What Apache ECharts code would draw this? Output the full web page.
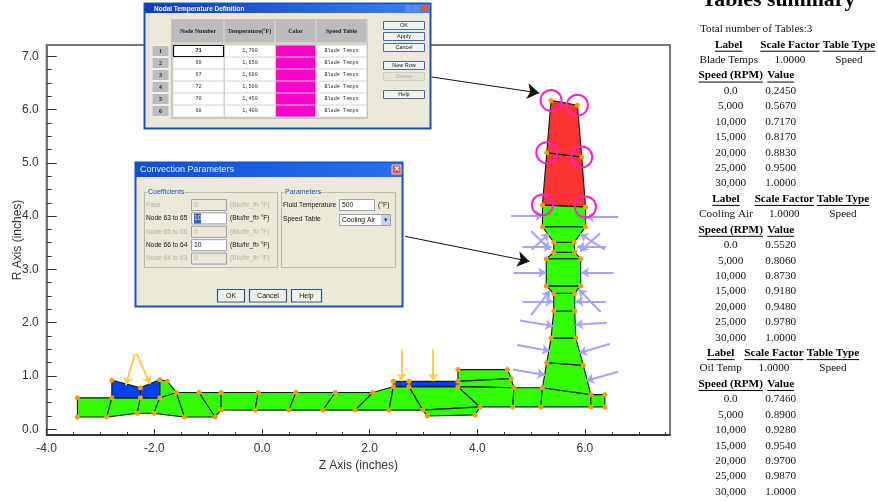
<!DOCTYPE html>
<html><head><meta charset="utf-8">
<style>html,body{margin:0;padding:0;background:#fff}#c{width:878px;height:501px}</style>
<script src="https://cdn.jsdelivr.net/npm/echarts@6/dist/echarts.min.js"></script>
</head><body><div id="c"></div>
<script>
// ---------- Chart data (Z, R in inches) ----------
const xMajor = [-4, -2, 0, 2, 4, 6];
const yMajor = [0, 1, 2, 3, 4, 5, 6, 7];
const xMinor = [-3.5,-3,-2.5,-1.5,-1,-0.5,0.5,1,1.5,2.5,3,3.5,4.5,5,5.5,6.5,7,7.5];
const yMinor = [0.25,0.5,0.75,1.25,1.5,1.75,2.25,2.5,2.75,3.25,3.5,3.75,4.25,4.5,4.75,5.25,5.5,5.75,6.25,6.5,6.75];
const nodes = {
  A:[-3.43,0.59],B:[-3.43,0.23],C:[-2.885,0.23],D:[-2.79,0.59],E:[-2.79,0.92],F:[-2.26,0.78],G:[-2.26,0.59],
  H:[-2.32,0.30],I:[-1.90,0.93],J:[-1.90,0.59],K:[-2.01,0.30],L:[-1.76,0.90],M:[-1.59,0.69],N:[-1.44,0.23],
  O:[-1.17,0.69],P:[-0.87,0.23],Q:[-0.76,0.69],R:[-0.76,0.365],S:[-0.07,0.69],T:[-0.13,0.36],U:[0.63,0.69],
  V:[0.50,0.36],W:[1.36,0.69],X:[1.13,0.36],Y:[2.06,0.69],Z:[1.73,0.36],
  a1:[2.44,0.90],a2:[2.44,0.80],a3:[2.36,0.36],b1:[2.73,0.90],b2:[2.73,0.80],b3:[2.99,0.36],c:[3.07,0.25],
  d1:[3.64,1.12],d2:[3.64,0.90],d3:[3.64,0.80],e:[4.05,0.42],f:[3.96,0.27],g:[4.56,1.12],h:[4.63,0.95],
  i:[4.68,0.78],j:[4.66,0.42],k:[5.18,0.42],l:[5.21,0.78],m:[5.29,1.25],n:[5.97,1.20],o:[6.11,0.65],
  p:[6.37,0.65],q:[6.37,0.42],r:[6.11,0.42],s:[5.37,1.71],s2:[5.83,1.71],u:[5.42,2.22],u2:[5.81,2.22],
  v:[5.42,2.55],v2:[5.81,2.55],w:[5.28,2.69],w2:[5.92,2.69],x:[5.28,3.20],x2:[5.92,3.20],y:[5.42,3.32],
  y2:[5.81,3.32],aa:[5.42,3.51],aa2:[5.80,3.51],bb:[5.21,3.80],bb2:[6.01,3.80],t5:[5.21,4.21],t6:[6.01,4.17],
  t3:[5.29,5.19],t4:[5.94,5.11],t1:[5.37,6.17],t2:[5.86,6.08]
};
const greenElements = [
  'A B C D','D C H G','G H K J','J K N M','I J M L','M N P O','O P R Q','Q R T S','S T V U','U V X W','W X Z Y',
  'Y Z a3 a2','a2 a3 b3 b2','b2 b3 e d3','b3 c f e','d2 d1 g h','d2 h i d3','d3 e j i','i j k l','l k r o','l o n m',
  'o r q p','m n s2 s','s s2 u2 u','u u2 v2 v','v v2 w2 w','w w2 x2 x','x x2 y2 y','y y2 aa2 aa','aa aa2 bb2 bb','bb bb2 t6 t5'
];
const blueElements = ['D G F E','G J I F','a1 a2 b2 d3 d2 b1'];
const redElements = ['t5 t6 t4 t3','t3 t4 t2 t1'];
const tempNodes = ['t1','t2','t3','t4','t5','t6'];
const convectionArrows = [
  [4.63,4.01,5.23,4.01],[6.62,3.98,6.02,3.98],[5.00,3.72,5.35,3.37],[4.84,3.42,5.38,3.42],[5.01,3.37,5.34,3.68],
  [6.28,3.68,5.91,3.34],[6.39,3.42,5.85,3.42],[6.37,3.37,5.91,3.67],[4.67,2.94,5.28,2.94],[6.53,2.94,5.93,2.94],
  [5.00,2.14,5.35,2.60],[4.84,2.40,5.41,2.40],[6.29,2.20,5.88,2.63],[6.39,2.40,5.82,2.40],[4.79,2.04,5.41,1.94],
  [6.41,2.00,5.82,1.96],[4.74,1.58,5.35,1.47],[6.46,1.60,5.89,1.43],[4.66,1.12,5.26,1.02],[6.62,1.08,6.02,0.91]
];
const loadArrows = [[-2.36,1.42,-2.53,0.83],[-2.33,1.42,-2.08,0.85],[2.59,1.50,2.59,0.90],[3.18,1.50,3.18,0.90]];
const calloutArrows = [[3.15,6.61,5.15,6.31],[2.66,3.62,4.97,3.15]];

// ---------- Dialog contents ----------
const tempHeaders = ['Node Number','Temperature(°F)','Color','Speed Table'];
const tempNodeNumbers = ['71','69','67','72','70','68'];
const tempValues = ['1,700','1,650','1,600','1,500','1,450','1,400'];
const tempTable = 'Blade Temps';
const tempButtons = ['OK','Apply','Cancel','New Row','Delete','Help'];
const convRows = ['Face','Node 63 to 65','Node 65 to 66','Node 66 to 64','Node 64 to 63'];
const convValues = ['0','10','0','10','0'];

// ---------- Tables summary ----------
const speedLabels = ['0.0','5,000','10,000','15,000','20,000','25,000','30,000'];
const tableNames = ['Blade Temps','Cooling Air','Oil Temp'];
const bladeValues = ['0.2450','0.5670','0.7170','0.8170','0.8830','0.9500','1.0000'];
const coolingValues = ['0.5520','0.8060','0.8730','0.9180','0.9480','0.9780','1.0000'];
const oilValues = ['0.7460','0.8900','0.9280','0.9540','0.9700','0.9870','1.0000'];

// ---------- Graphic helpers ----------
const gfx = [];
const SANS = '"Liberation Sans"', SERIF = '"Liberation Serif"', MONO = '"Liberation Mono"';
function rect(x,y,w,h,fill,stroke,lw){gfx.push({type:'rect',z:100,silent:true,shape:{x,y,width:w,height:h},style:{fill:fill||'transparent',stroke:stroke||null,lineWidth:lw||1}});}
function line(x1,y1,x2,y2,c,lw){gfx.push({type:'line',z:102,silent:true,shape:{x1,y1,x2,y2},style:{stroke:c,lineWidth:lw||1}});}
function txt(x,y,s,font,fill,align){gfx.push({type:'text',z:103,silent:true,style:{text:s,x,y,font,fill:fill||'#000',textAlign:align||'center',textVerticalAlign:'middle'}});}
function grad(a,b){return {type:'linear',x:0,y:0,x2:1,y2:0,colorStops:[{offset:0,color:a},{offset:1,color:b}]};}

// Dialog 1: Nodal Temperature Definition
rect(144.5,3.5,286,125,'#ece9d8','#1450c8',2);
rect(145,4,285,9,grad('#0a3cc0','#3c82f0'));
txt(154,9,'Nodal Temperature Definition','bold 6.5px '+SANS,'#fff','left');
rect(405,5,7,7,'#5a8cf0');rect(413,5,7,7,'#5a8cf0');rect(421,5,7,7,'#e0583c');
rect(171.5,19.5,196,99,'#d4d2c8','#c4c4bc',1);
rect(172,20,195,22,'#bcbcbc');
const colX=[172,224,275,316,367];
for(let i=0;i<4;i++){
  line(colX[i+1],20,colX[i+1],42,'#ddd',1);
  txt((colX[i]+colX[i+1])/2,31,tempHeaders[i],'bold 6px '+SERIF,'#222');
}
for(let i=0;i<6;i++){
  const y=45.5+i*12;
  rect(152,y,17,11,'#bcbcbc','#eee',1);
  txt(160.5,y+5.5,String(i+1),'bold 6px '+SERIF,'#223');
  rect(173.5,y,50,11,'#fff');
  rect(225,y,50,11,'#fff');
  rect(276,y,39,11,'#ff00cc');
  rect(316.5,y,50,11,'#fff');
  txt(198.5,y+5.5,tempNodeNumbers[i],'5.2px '+MONO,'#333');
  txt(250,y+5.5,tempValues[i],'5.2px '+MONO,'#333');
  txt(341.5,y+5.5,tempTable,'5.2px '+MONO,'#333');
}
rect(173.5,45.5,50,11,'#fff','#111',1.2);
txt(198.5,51,tempNodeNumbers[0],'5.2px '+MONO,'#333');
const btnY=[21.5,32.5,43.5,61.5,72.5,90.5];
tempButtons.forEach((b,i)=>{
  const off=b==='Delete';
  rect(383.5,btnY[i],41,8,off?'#e6e3d4':'#f2f1ea',off?'#d0cfc4':'#4a6a9a',1);
  txt(404,btnY[i]+4,b,'5.5px '+SANS,off?'#aaa':'#222');
});

// Dialog 2: Convection Parameters
rect(135.5,162.5,267,144,'#ece9d8','#1450d0',2);
rect(136,163,266,14,grad('#0a50d8','#2a70ec'));
txt(140,170,'Convection Parameters','9px '+SANS,'#e8f0ff','left');
rect(392,165,9,9,'#e0583c','#fff',0.7);
txt(396.5,169.5,'✕','bold 7px '+SANS,'#fff');
rect(144.5,192.5,133,75,null,'#bcbaae',1);
rect(281.5,192.5,114,75,null,'#bcbaae',1);
rect(147,189,38,7,'#ece9d8');rect(284,189,35,7,'#ece9d8');
txt(148,192.5,'Coefficients','7px '+SANS,'#1450c8','left');
txt(285,192.5,'Parameters','7px '+SANS,'#1450c8','left');
convRows.forEach((r,i)=>{
  const on=i===1||i===3, y=205+i*13.4;
  txt(146,y,r,'6.6px '+SANS,on?'#111':'#b4b2a6','left');
  rect(191.5,y-5.5,35,11,on?'#fff':'#ece9d8','#9aa2ae',1);
  txt(194,y,convValues[i],'6.8px '+SANS,on?'#111':'#b4b2a6','left');
  txt(230,y,'(Btu/hr_ft² °F)','6.5px '+SANS,on?'#111':'#b4b2a6','left');
});
rect(194,213.5,7,10,'#3060c8');
txt(194,218.4,convValues[1],'6.8px '+SANS,'#fff','left');
txt(283,205,'Fluid Temperature','6.6px '+SANS,'#111','left');
rect(339.5,199.5,35,11,'#fff','#9aa2ae',1);
txt(342,205,'500','6.8px '+SANS,'#111','left');
txt(378,205,'(°F)','6.8px '+SANS,'#111','left');
txt(283,219.5,'Speed Table','6.8px '+SANS,'#111','left');
rect(339.5,214.5,51,11,'#fff','#9aa2ae',1);
txt(342,220,'Cooling Air','6.8px '+SANS,'#111','left');
rect(381,215,9,10,'#c4d4f0');
txt(385.5,220,'▾','7px '+SANS,'#345');
[['OK',217.5,27],['Cancel',249.5,37],['Help',291.5,30]].forEach(b=>{
  rect(b[1],289.5,b[2],12.5,'#f2f1ea','#2c5a8c',1.2);
  txt(b[1]+b[2]/2,296,b[0],'7px '+SANS,'#111');
});

// Tables summary panel
const meas=document.createElement('canvas').getContext('2d');
const rowY=i=>29.3+i*15.42;
const PLAIN='11.2px '+SERIF, BOLD='bold 11.2px '+SERIF;
function uText(x,y,s){
  txt(x,y,s,BOLD,'#000');
  meas.font=BOLD;const w=meas.measureText(s).width;
  line(x-w/2,y+6.5,x+w/2,y+6.5,'#000',1);
}
txt(778.5,0,'Tables summary','bold 21.8px '+SERIF,'#000');
txt(700,rowY(0),'Total number of Tables:3',PLAIN,'#111','left');
const colSets=[[728.7,790,849],[726,784.3,843],[720.7,774,833]];
[bladeValues,coolingValues,oilValues].forEach((vals,t)=>{
  const base=1+t*10, cs=colSets[t];
  uText(cs[0],rowY(base),'Label');uText(cs[1],rowY(base),'Scale Factor');uText(cs[2],rowY(base),'Table Type');
  txt(cs[0],rowY(base+1),tableNames[t],PLAIN,'#111');
  txt(cs[1],rowY(base+1),'1.0000',PLAIN,'#111');
  txt(cs[2],rowY(base+1),'Speed',PLAIN,'#111');
  uText(730.7,rowY(base+2),'Speed (RPM)');uText(780.7,rowY(base+2),'Value');
  vals.forEach((v,i)=>{
    txt(730.7,rowY(base+3+i),speedLabels[i],PLAIN,'#111');
    txt(780.7,rowY(base+3+i),v,PLAIN,'#111');
  });
});

// ---------- Chart ----------
function polySeries(list,fill){
  return {type:'custom',coordinateSystem:'cartesian2d',silent:true,clip:false,z:2,
    data:list.map((e,i)=>[i]),encode:{x:[],y:[]},
    renderItem:(p,api)=>({type:'polygon',
      shape:{points:list[p.dataIndex].split(' ').map(n=>api.coord(nodes[n]))},
      style:{fill,stroke:'#0c1a0c',lineWidth:1.1}})};
}
function arrowSeries(list,color,width,size,z){
  return {type:'lines',coordinateSystem:'cartesian2d',silent:true,z,
    symbol:['none','arrow'],symbolSize:size,
    lineStyle:{color,width,opacity:1,curveness:0},
    data:list.map(a=>({coords:[[a[0],a[1]],[a[2],a[3]]]}))};
}
const axisFont={fontFamily:SANS.replace(/"/g,''),fontSize:12,color:'#333'};
const chart=echarts.init(document.getElementById('c'),null,{renderer:'canvas'});
chart.setOption({
  animation:false,
  backgroundColor:'#fff',
  grid:{outerBoundsMode:'none',left:46.7,right:208,top:45,bottom:66,show:true,borderColor:'#777',borderWidth:2,backgroundColor:'transparent'},
  xAxis:[
    {type:'value',min:-4,max:7.58,position:'bottom',name:'Z Axis (inches)',nameLocation:'middle',nameGap:24,nameTextStyle:axisFont,
     splitLine:{show:false},axisLine:{show:true,onZero:false,lineStyle:{color:'#222',width:1.5}},
     axisTick:{show:true,inside:true,length:6,customValues:xMajor,lineStyle:{color:'#333'}},
     axisLabel:{customValues:xMajor,formatter:v=>v.toFixed(1),margin:8,...axisFont}},
    {type:'value',min:-4,max:7.58,position:'bottom',splitLine:{show:false},axisLine:{show:false,onZero:false},
     axisTick:{show:true,inside:true,length:3,customValues:xMinor,lineStyle:{color:'#333'}},axisLabel:{show:false}}
  ],
  yAxis:[
    {type:'value',min:-0.107,max:7.21,position:'left',name:'R Axis (inches)',nameLocation:'middle',nameGap:23,nameMoveOverlap:false,nameTextStyle:axisFont,
     splitLine:{show:false},axisLine:{show:true,onZero:false,lineStyle:{color:'#666',width:1.5}},
     axisTick:{show:true,inside:true,length:10,customValues:yMajor,lineStyle:{color:'#333'}},
     axisLabel:{customValues:yMajor,formatter:v=>v.toFixed(1),margin:8,...axisFont}},
    {type:'value',min:-0.107,max:7.21,position:'left',splitLine:{show:false},axisLine:{show:false,onZero:false},
     axisTick:{show:true,inside:true,length:5,customValues:yMinor,lineStyle:{color:'#333'}},axisLabel:{show:false}}
  ],
  graphic:{elements:gfx},
  series:[
    polySeries(greenElements,'#33ff00'),
    polySeries(blueElements,'#0040f0'),
    polySeries(redElements,'#ff3333'),
    arrowSeries(convectionArrows,'#a4a4ff',2,8,3),
    arrowSeries(loadArrows,'#ffcc55',2,8,3),
    {type:'scatter',silent:true,z:4,symbolSize:5,itemStyle:{color:'#ff9a10',opacity:1},data:Object.values(nodes)},
    {type:'scatter',silent:true,z:5,symbolSize:21,itemStyle:{color:'transparent',borderColor:'#ff22cc',borderWidth:2,opacity:1},
     data:tempNodes.map(n=>nodes[n])},
    arrowSeries(calloutArrows,'#111',1,12,6)
  ]
});
</script></body></html>
